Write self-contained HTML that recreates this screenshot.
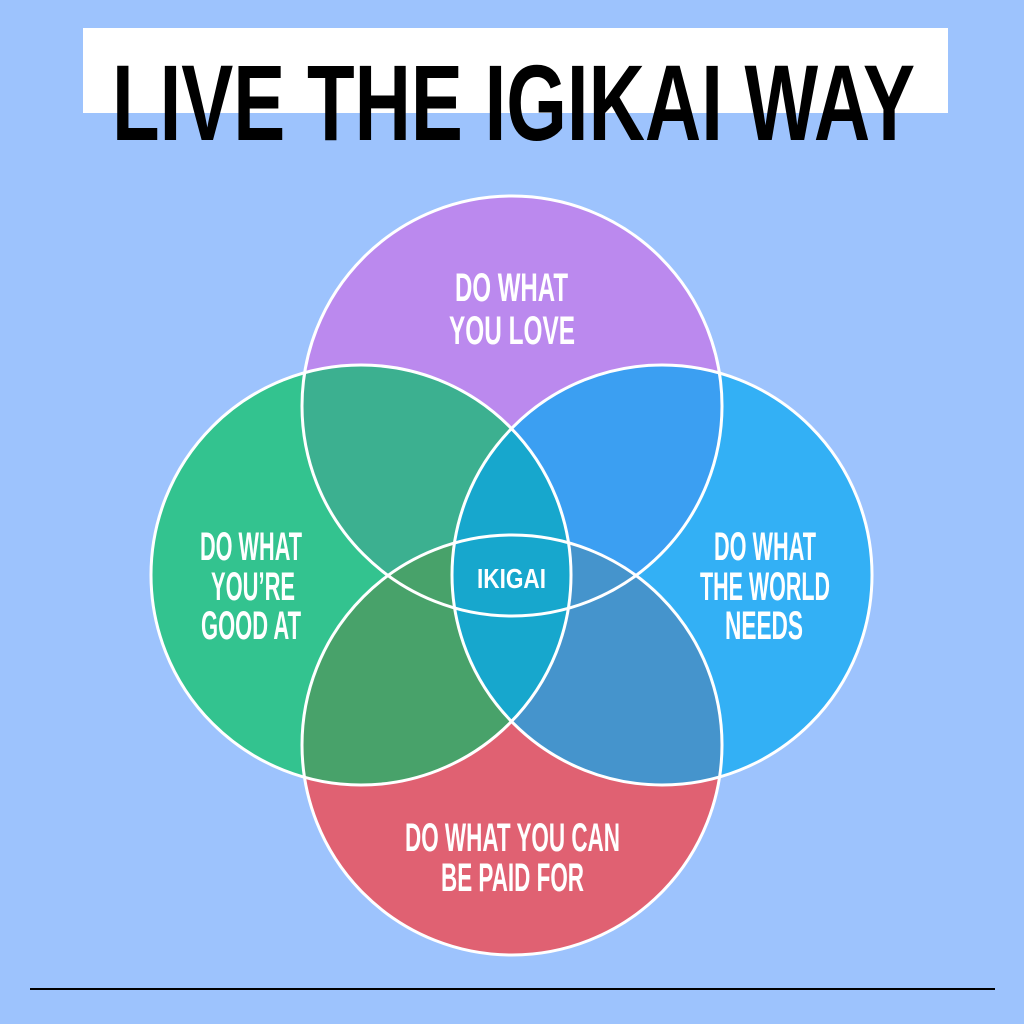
<!DOCTYPE html>
<html><head><meta charset="utf-8"><style>html,body{margin:0;padding:0;background:#9dc3fd;}svg{display:block}</style></head>
<body>
<svg width="1024" height="1024" viewBox="0 0 1024 1024" xmlns="http://www.w3.org/2000/svg">
<defs>
<clipPath id="cT"><circle cx="512" cy="406" r="210"/></clipPath>
<clipPath id="cL"><circle cx="361" cy="575" r="210"/></clipPath>
<clipPath id="cR"><circle cx="662" cy="575" r="210"/></clipPath>
<clipPath id="cB"><circle cx="512" cy="745" r="210"/></clipPath>
</defs>
<rect width="1024" height="1024" fill="#9dc3fd"/>
<rect x="83" y="28" width="865" height="85" fill="#fff"/>
<text x="112" y="140" font-family="Liberation Sans, sans-serif" font-weight="bold" font-size="108" textLength="803" lengthAdjust="spacingAndGlyphs" fill="#000">LIVE THE IGIKAI WAY</text>

<circle cx="512" cy="406" r="210" fill="#bb89ee"/>
<circle cx="361" cy="575" r="210" fill="#33c38f"/>
<circle cx="662" cy="575" r="210" fill="#33b0f5"/>
<circle cx="512" cy="745" r="210" fill="#e06172"/>
<g clip-path="url(#cT)"><circle cx="361" cy="575" r="210" fill="#3cb090"/><circle cx="662" cy="575" r="210" fill="#3b9ff2"/></g>
<g clip-path="url(#cB)"><circle cx="361" cy="575" r="210" fill="#48a26a"/><circle cx="662" cy="575" r="210" fill="#4594cc"/></g>
<g clip-path="url(#cL)"><circle cx="662" cy="575" r="210" fill="#17a7cd"/></g>
<g fill="none" stroke="#fff" stroke-width="3">
<circle cx="512" cy="406" r="210"/><circle cx="361" cy="575" r="210"/><circle cx="662" cy="575" r="210"/><circle cx="512" cy="745" r="210"/>
</g>
<g font-family="Liberation Sans, sans-serif" font-size="40" font-weight="bold" fill="#fff">
<text x="455" y="301" textLength="113" lengthAdjust="spacingAndGlyphs">DO WHAT</text>
<text x="449" y="344" textLength="126" lengthAdjust="spacingAndGlyphs">YOU LOVE</text>
<text x="200" y="560" textLength="102" lengthAdjust="spacingAndGlyphs">DO WHAT</text>
<text x="211" y="600" textLength="84" lengthAdjust="spacingAndGlyphs">YOU’RE</text>
<text x="201" y="639" textLength="100" lengthAdjust="spacingAndGlyphs">GOOD AT</text>
<text x="714" y="560" textLength="102" lengthAdjust="spacingAndGlyphs">DO WHAT</text>
<text x="700" y="600" textLength="130" lengthAdjust="spacingAndGlyphs">THE WORLD</text>
<text x="725" y="639" textLength="78" lengthAdjust="spacingAndGlyphs">NEEDS</text>
<text x="405" y="851" textLength="215" lengthAdjust="spacingAndGlyphs">DO WHAT YOU CAN</text>
<text x="441" y="891" textLength="143" lengthAdjust="spacingAndGlyphs">BE PAID FOR</text>
<text x="477" y="588" font-size="28" textLength="69" lengthAdjust="spacingAndGlyphs">IKIGAI</text>
</g>
<rect x="30" y="988" width="965" height="2" fill="#000"/>
</svg>
</body></html>
